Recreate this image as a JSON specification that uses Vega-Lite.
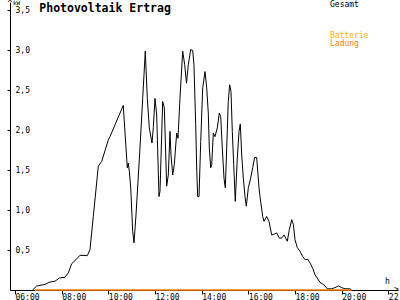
{
  "$schema": "https://vega.github.io/schema/vega-lite/v6.json",
  "autosize": "none",
  "width": 388,
  "height": 288,
  "padding": {"left": 10, "top": 2, "right": 2, "bottom": 10},
  "background": "#ffffff",
  "config": {"view": {"stroke": null}},
  "datasets": {
    "power": [
      {"t": 6.75, "kW": 0, "series": "Gesamt"},
      {"t": 6.93, "kW": 0.05, "series": "Gesamt"},
      {"t": 7.286, "kW": 0.07, "series": "Gesamt"},
      {"t": 7.5, "kW": 0.1, "series": "Gesamt"},
      {"t": 7.714, "kW": 0.11, "series": "Gesamt"},
      {"t": 7.9, "kW": 0.15, "series": "Gesamt"},
      {"t": 8.143, "kW": 0.16, "series": "Gesamt"},
      {"t": 8.284, "kW": 0.215, "series": "Gesamt"},
      {"t": 8.43, "kW": 0.33, "series": "Gesamt"},
      {"t": 8.614, "kW": 0.38, "series": "Gesamt"},
      {"t": 8.786, "kW": 0.435, "series": "Gesamt"},
      {"t": 9.1, "kW": 0.43, "series": "Gesamt"},
      {"t": 9.214, "kW": 0.506, "series": "Gesamt"},
      {"t": 9.356, "kW": 0.92, "series": "Gesamt"},
      {"t": 9.57, "kW": 1.55, "series": "Gesamt"},
      {"t": 9.716, "kW": 1.61, "series": "Gesamt"},
      {"t": 10.0, "kW": 1.88, "series": "Gesamt"},
      {"t": 10.07, "kW": 1.92, "series": "Gesamt"},
      {"t": 10.64, "kW": 2.31, "series": "Gesamt"},
      {"t": 10.757, "kW": 1.78, "series": "Gesamt"},
      {"t": 10.813, "kW": 1.53, "series": "Gesamt"},
      {"t": 10.856, "kW": 1.59, "series": "Gesamt"},
      {"t": 10.9, "kW": 1.485, "series": "Gesamt"},
      {"t": 10.96, "kW": 1.28, "series": "Gesamt"},
      {"t": 11.044, "kW": 0.735, "series": "Gesamt"},
      {"t": 11.1, "kW": 0.59, "series": "Gesamt"},
      {"t": 11.186, "kW": 0.94, "series": "Gesamt"},
      {"t": 11.357, "kW": 1.78, "series": "Gesamt"},
      {"t": 11.473, "kW": 2.4, "series": "Gesamt"},
      {"t": 11.584, "kW": 2.99, "series": "Gesamt"},
      {"t": 11.67, "kW": 2.4, "series": "Gesamt"},
      {"t": 11.756, "kW": 2.03, "series": "Gesamt"},
      {"t": 11.871, "kW": 1.84, "series": "Gesamt"},
      {"t": 11.927, "kW": 2.03, "series": "Gesamt"},
      {"t": 12.0, "kW": 2.4, "series": "Gesamt"},
      {"t": 12.073, "kW": 2.19, "series": "Gesamt"},
      {"t": 12.171, "kW": 1.17, "series": "Gesamt"},
      {"t": 12.214, "kW": 1.235, "series": "Gesamt"},
      {"t": 12.33, "kW": 2.36, "series": "Gesamt"},
      {"t": 12.4, "kW": 2.28, "series": "Gesamt"},
      {"t": 12.5, "kW": 1.3, "series": "Gesamt"},
      {"t": 12.57, "kW": 1.44, "series": "Gesamt"},
      {"t": 12.643, "kW": 1.985, "series": "Gesamt"},
      {"t": 12.686, "kW": 1.69, "series": "Gesamt"},
      {"t": 12.76, "kW": 1.44, "series": "Gesamt"},
      {"t": 12.827, "kW": 1.57, "series": "Gesamt"},
      {"t": 12.93, "kW": 1.965, "series": "Gesamt"},
      {"t": 12.986, "kW": 1.9, "series": "Gesamt"},
      {"t": 13.07, "kW": 2.4, "series": "Gesamt"},
      {"t": 13.187, "kW": 2.99, "series": "Gesamt"},
      {"t": 13.273, "kW": 2.82, "series": "Gesamt"},
      {"t": 13.35, "kW": 2.59, "series": "Gesamt"},
      {"t": 13.427, "kW": 2.82, "series": "Gesamt"},
      {"t": 13.53, "kW": 3.01, "series": "Gesamt"},
      {"t": 13.616, "kW": 3.0, "series": "Gesamt"},
      {"t": 13.67, "kW": 2.82, "series": "Gesamt"},
      {"t": 13.744, "kW": 2.07, "series": "Gesamt"},
      {"t": 13.79, "kW": 1.485, "series": "Gesamt"},
      {"t": 13.83, "kW": 1.17, "series": "Gesamt"},
      {"t": 13.886, "kW": 1.17, "series": "Gesamt"},
      {"t": 13.96, "kW": 1.86, "series": "Gesamt"},
      {"t": 14.044, "kW": 2.53, "series": "Gesamt"},
      {"t": 14.143, "kW": 2.735, "series": "Gesamt"},
      {"t": 14.216, "kW": 2.53, "series": "Gesamt"},
      {"t": 14.284, "kW": 2.215, "series": "Gesamt"},
      {"t": 14.327, "kW": 1.78, "series": "Gesamt"},
      {"t": 14.387, "kW": 1.53, "series": "Gesamt"},
      {"t": 14.43, "kW": 1.57, "series": "Gesamt"},
      {"t": 14.5, "kW": 1.965, "series": "Gesamt"},
      {"t": 14.571, "kW": 1.92, "series": "Gesamt"},
      {"t": 14.67, "kW": 2.03, "series": "Gesamt"},
      {"t": 14.756, "kW": 2.215, "series": "Gesamt"},
      {"t": 14.816, "kW": 2.17, "series": "Gesamt"},
      {"t": 14.884, "kW": 1.78, "series": "Gesamt"},
      {"t": 14.957, "kW": 1.4, "series": "Gesamt"},
      {"t": 15.013, "kW": 1.28, "series": "Gesamt"},
      {"t": 15.073, "kW": 1.78, "series": "Gesamt"},
      {"t": 15.14, "kW": 2.36, "series": "Gesamt"},
      {"t": 15.2, "kW": 2.57, "series": "Gesamt"},
      {"t": 15.257, "kW": 2.485, "series": "Gesamt"},
      {"t": 15.313, "kW": 1.985, "series": "Gesamt"},
      {"t": 15.373, "kW": 1.57, "series": "Gesamt"},
      {"t": 15.44, "kW": 1.11, "series": "Gesamt"},
      {"t": 15.527, "kW": 1.65, "series": "Gesamt"},
      {"t": 15.6, "kW": 1.985, "series": "Gesamt"},
      {"t": 15.656, "kW": 2.08, "series": "Gesamt"},
      {"t": 15.716, "kW": 1.69, "series": "Gesamt"},
      {"t": 15.786, "kW": 1.4, "series": "Gesamt"},
      {"t": 15.857, "kW": 1.17, "series": "Gesamt"},
      {"t": 15.913, "kW": 1.05, "series": "Gesamt"},
      {"t": 16.0, "kW": 1.28, "series": "Gesamt"},
      {"t": 16.1, "kW": 1.4, "series": "Gesamt"},
      {"t": 16.186, "kW": 1.53, "series": "Gesamt"},
      {"t": 16.27, "kW": 1.66, "series": "Gesamt"},
      {"t": 16.357, "kW": 1.66, "series": "Gesamt"},
      {"t": 16.457, "kW": 1.28, "series": "Gesamt"},
      {"t": 16.5, "kW": 1.17, "series": "Gesamt"},
      {"t": 16.616, "kW": 0.92, "series": "Gesamt"},
      {"t": 16.67, "kW": 0.86, "series": "Gesamt"},
      {"t": 16.786, "kW": 0.92, "series": "Gesamt"},
      {"t": 16.886, "kW": 0.86, "series": "Gesamt"},
      {"t": 17.0, "kW": 0.69, "series": "Gesamt"},
      {"t": 17.11, "kW": 0.7, "series": "Gesamt"},
      {"t": 17.216, "kW": 0.715, "series": "Gesamt"},
      {"t": 17.327, "kW": 0.65, "series": "Gesamt"},
      {"t": 17.43, "kW": 0.65, "series": "Gesamt"},
      {"t": 17.53, "kW": 0.69, "series": "Gesamt"},
      {"t": 17.6, "kW": 0.65, "series": "Gesamt"},
      {"t": 17.67, "kW": 0.61, "series": "Gesamt"},
      {"t": 17.756, "kW": 0.756, "series": "Gesamt"},
      {"t": 17.86, "kW": 0.88, "series": "Gesamt"},
      {"t": 17.93, "kW": 0.82, "series": "Gesamt"},
      {"t": 18.0, "kW": 0.63, "series": "Gesamt"},
      {"t": 18.1, "kW": 0.53, "series": "Gesamt"},
      {"t": 18.214, "kW": 0.485, "series": "Gesamt"},
      {"t": 18.33, "kW": 0.42, "series": "Gesamt"},
      {"t": 18.43, "kW": 0.38, "series": "Gesamt"},
      {"t": 18.546, "kW": 0.385, "series": "Gesamt"},
      {"t": 18.643, "kW": 0.34, "series": "Gesamt"},
      {"t": 18.76, "kW": 0.27, "series": "Gesamt"},
      {"t": 18.857, "kW": 0.19, "series": "Gesamt"},
      {"t": 18.956, "kW": 0.15, "series": "Gesamt"},
      {"t": 19.07, "kW": 0.094, "series": "Gesamt"},
      {"t": 19.186, "kW": 0.075, "series": "Gesamt"},
      {"t": 19.286, "kW": 0.05, "series": "Gesamt"},
      {"t": 19.384, "kW": 0.015, "series": "Gesamt"},
      {"t": 19.57, "kW": 0.015, "series": "Gesamt"},
      {"t": 19.714, "kW": 0.03, "series": "Gesamt"},
      {"t": 19.856, "kW": 0.05, "series": "Gesamt"},
      {"t": 20.0, "kW": 0.03, "series": "Gesamt"},
      {"t": 20.143, "kW": 0.015, "series": "Gesamt"},
      {"t": 20.357, "kW": 0.015, "series": "Gesamt"},
      {"t": 20.43, "kW": 0, "series": "Gesamt"},
      {"t": 6.857, "kW": 0, "series": "Ladung"},
      {"t": 20.43, "kW": 0, "series": "Ladung"}
    ]
  },
  "layer": [
    {
      "data": {"name": "power"},
      "transform": [{"filter": "datum.series === 'Gesamt'"}],
      "mark": {"type": "line", "color": "#000000", "strokeWidth": 1, "interpolate": "linear"},
      "encoding": {
        "x": {
          "field": "t",
          "type": "quantitative",
          "scale": {"domain": [5.786, 22.414], "nice": false, "zero": false},
          "axis": {
            "values": [6, 8, 10, 12, 14, 16, 18, 20, 22],
            "title": null,
            "grid": false,
            "domainColor": "#000000",
            "tickColor": "#000000",
            "tickSize": 4,
            "labelExpr": "(datum.value < 10 ? '0' : '') + datum.value + ':00'",
            "labelFont": "DejaVu Sans Mono",
            "labelFontSize": 8,
            "labelColor": "#000000",
            "labelAlign": "left",
            "labelDx": -4,
            "labelPadding": -1,
            "labelBaseline": "top",
            "labelOverlap": false,
            "labelFlush": false,
            "labelBound": false,
            "encode": {"ticks": {"update": {"y": {"value": -4}}}}
          }
        },
        "y": {
          "field": "kW",
          "type": "quantitative",
          "scale": {"domain": [0, 3.606], "nice": false, "zero": false},
          "axis": {
            "values": [0.5, 1, 1.5, 2, 2.5, 3, 3.5],
            "title": null,
            "grid": false,
            "domainColor": "#000000",
            "tickColor": "#000000",
            "tickSize": 3,
            "labelExpr": "replace(format(datum.value, '.1f'), '.', ',')",
            "labelFont": "DejaVu Sans Mono",
            "labelFontSize": 8,
            "labelColor": "#000000",
            "labelAlign": "left",
            "labelPadding": -8,
            "labelBaseline": "middle",
            "labelOverlap": false,
            "labelFlush": false,
            "labelBound": false,
            "encode": {"ticks": {"update": {"x": {"value": 3}}}}
          }
        }
      }
    },
    {
      "data": {"name": "power"},
      "transform": [{"filter": "datum.series === 'Ladung'"}],
      "mark": {"type": "line", "color": "#FF8000", "strokeWidth": 1.5},
      "encoding": {
        "x": {"field": "t", "type": "quantitative"},
        "y": {"field": "kW", "type": "quantitative"}
      }
    },
    {
      "data": {"values": [{"label": "Photovoltaik Ertrag"}]},
      "mark": {"type": "text", "font": "DejaVu Sans Mono", "fontWeight": "bold", "fontSize": 11.5, "align": "left", "baseline": "alphabetic", "color": "#000000"},
      "encoding": {"text": {"field": "label"}, "x": {"datum": 7.041, "type": "quantitative"}, "y": {"datum": 3.485, "type": "quantitative"}}
    },
    {
      "data": {"values": [{"label": "kW"}]},
      "mark": {"type": "text", "font": "DejaVu Sans Mono", "fontSize": 6, "align": "left", "baseline": "top", "color": "#000000"},
      "encoding": {"text": {"field": "label"}, "x": {"datum": 5.914, "type": "quantitative"}, "y": {"datum": 3.63, "type": "quantitative"}}
    },
    {
      "data": {"values": [{"label": "^"}]},
      "mark": {"type": "text", "font": "DejaVu Sans Mono", "fontSize": 8, "align": "center", "baseline": "top", "color": "#000000"},
      "encoding": {"text": {"field": "label"}, "x": {"datum": 5.786, "type": "quantitative"}, "y": {"datum": 3.63, "type": "quantitative"}}
    },
    {
      "data": {"values": [{"label": ">"}]},
      "mark": {"type": "text", "font": "DejaVu Sans Mono", "fontSize": 8, "align": "right", "baseline": "middle", "color": "#000000"},
      "encoding": {"text": {"field": "label"}, "x": {"datum": 22.45, "type": "quantitative"}, "y": {"datum": 0, "type": "quantitative"}}
    },
    {
      "data": {"values": [{"label": "Gesamt"}]},
      "mark": {"type": "text", "font": "DejaVu Sans Mono", "fontSize": 8, "align": "left", "baseline": "alphabetic", "color": "#000000"},
      "encoding": {"text": {"field": "label"}, "x": {"datum": 19.5, "type": "quantitative"}, "y": {"datum": 3.544, "type": "quantitative"}}
    },
    {
      "data": {"values": [{"label": "Batterie"}]},
      "mark": {"type": "text", "font": "DejaVu Sans Mono", "fontSize": 8, "align": "left", "baseline": "alphabetic", "color": "#FFB000"},
      "encoding": {"text": {"field": "label"}, "x": {"datum": 19.5, "type": "quantitative"}, "y": {"datum": 3.156, "type": "quantitative"}}
    },
    {
      "data": {"values": [{"label": "Ladung"}]},
      "mark": {"type": "text", "font": "DejaVu Sans Mono", "fontSize": 8, "align": "left", "baseline": "alphabetic", "color": "#FF8000"},
      "encoding": {"text": {"field": "label"}, "x": {"datum": 19.5, "type": "quantitative"}, "y": {"datum": 3.05, "type": "quantitative"}}
    },
    {
      "data": {"values": [{"label": "h"}]},
      "mark": {"type": "text", "font": "DejaVu Sans Mono", "fontSize": 8, "align": "left", "baseline": "alphabetic", "color": "#000000"},
      "encoding": {"text": {"field": "label"}, "x": {"datum": 21.857, "type": "quantitative"}, "y": {"datum": 0.081, "type": "quantitative"}}
    }
  ]
}
